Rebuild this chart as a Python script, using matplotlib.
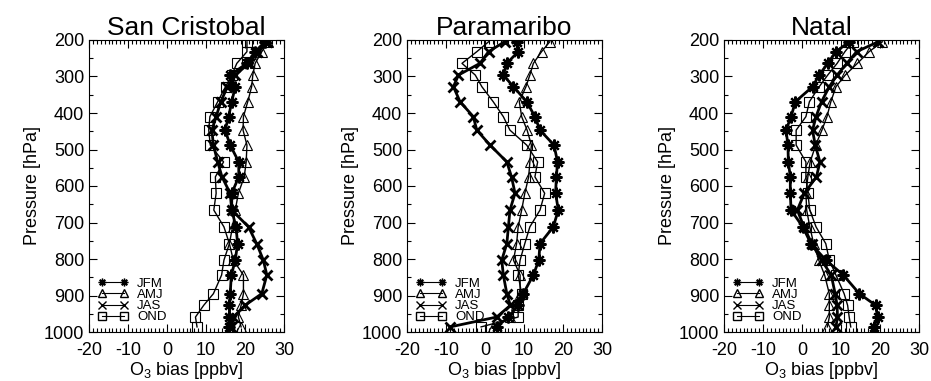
import matplotlib
matplotlib.use('Agg')
import matplotlib.pyplot as plt
from matplotlib.lines import Line2D
from matplotlib.ticker import MultipleLocator

plt.rcParams['font.family'] = ['Liberation Sans', 'DejaVu Sans']
plt.rcParams['axes.unicode_minus'] = False

# pressure levels of the markers [hPa]
levels = [205, 232, 264, 296, 328, 369, 410, 447, 488, 534, 575,
          620, 666, 712, 758, 803, 844, 895, 927, 959, 986]

# San Cristobal
sc_jfm = [25.1, 22.6, 20.5, 16.2, 17.5, 16.6, 15.8, 14.9, 16.2, 18.4, 18.4,
          16.6, 16.6, 17.7, 18.1, 17.5, 16.5, 16.2, 16.0, 16.0, 15.8]
sc_amj = [26.0, 24.3, 22.6, 22.0, 21.7, 20.7, 19.6, 19.5, 20.5, 20.3, 19.8,
          18.3, 17.5, 16.8, 16.0, 17.0, 19.6, 19.6, 19.0, 18.3, 19.0]
sc_jas = [25.6, 23.0, 21.0, 17.5, 15.5, 13.8, 12.6, 11.5, 11.9, 13.0, 14.1,
          16.2, 16.6, 20.9, 23.0, 24.7, 25.6, 24.3, 20.0, 17.0, 16.5]
sc_ond = [20.5, 20.5, 17.9, 16.6, 15.0, 13.0, 11.0, 10.7, 11.1, 14.5, 12.4,
          12.6, 12.0, 14.6, 16.0, 14.6, 14.0, 11.9, 9.4, 7.3, 7.7]

# Paramaribo
pa_jfm = [8.1, 8.5, 5.6, 4.7, 7.3, 10.7, 12.8, 14.1, 17.7, 18.6, 18.3,
          18.1, 18.8, 17.5, 14.1, 13.8, 12.4, 9.8, 8.5, 6.0, 3.0]
pa_amj = [16.6, 14.5, 12.4, 11.5, 10.5, 8.8, 9.4, 10.8, 11.9, 11.5, 11.2,
          10.2, 9.4, 8.5, 8.1, 7.3, 9.0, 9.0, 8.0, 6.5, 2.0]
pa_jas = [5.0, 0.9, -1.3, -6.8, -8.1, -6.4, -3.0, -2.1, 1.3, 5.6, 6.8,
          7.7, 6.4, 6.0, 5.6, 4.3, 4.7, 5.6, 6.5, 3.0, -8.9]
pa_ond = [0.9, -2.1, -5.9, -2.5, -0.8, 2.1, 4.7, 6.4, 10.7, 13.5, 12.8,
          15.3, 14.1, 11.5, 10.2, 9.0, 8.5, 9.4, 8.5, 8.5, -1.0]

# Natal
na_jfm = [12.1, 8.7, 6.6, 4.4, 2.7, -1.7, -2.8, -4.1, -3.6, -3.5, -3.0,
          -3.0, -2.8, 0.2, 2.3, 6.1, 10.6, 14.7, 18.9, 19.4, 18.5]
na_amj = [20.6, 17.2, 14.2, 11.1, 8.7, 7.4, 6.4, 5.1, 3.5, 2.1, 1.5,
          1.0, 1.2, 2.0, 3.0, 4.3, 5.8, 7.0, 7.0, 7.0, 6.5]
na_jas = [19.5, 14.0, 11.5, 9.0, 7.0, 5.0, 3.6, 2.7, 3.4, 4.6, 3.7,
          0.6, -1.2, 0.5, 2.5, 5.0, 7.5, 8.5, 9.0, 9.1, 8.7]
na_ond = [13.0, 11.0, 9.0, 6.6, 4.4, 1.9, 1.0, -1.5, -1.5, 1.0, 1.0,
          1.5, 2.0, 3.6, 6.1, 7.0, 8.7, 10.8, 11.7, 12.1, 12.5]

stations = ['San Cristobal', 'Paramaribo', 'Natal']
seasons = ['JFM', 'AMJ', 'JAS', 'OND']
data = [[sc_jfm, sc_amj, sc_jas, sc_ond],
        [pa_jfm, pa_amj, pa_jas, pa_ond],
        [na_jfm, na_amj, na_jas, na_ond]]

# style per season: marker, line width, marker edge width
styles = {
    'JFM': dict(marker=(8, 2, 0), lw=2.0, mew=1.6, ms=8.5),
    'AMJ': dict(marker='^', lw=1.0, mew=0.8, ms=7),
    'JAS': dict(marker='x', lw=2.0, mew=2.0, ms=7),
    'OND': dict(marker='s', lw=1.0, mew=0.8, ms=7),
}

fig = plt.figure(figsize=(9.31, 3.81), dpi=100)
lefts = [89 / 931, 407 / 931, 724 / 931]

for i, name in enumerate(stations):
    ax = fig.add_axes([lefts[i], 49 / 381, 195 / 931, 292 / 381])
    for s, vals in zip(seasons, data[i]):
        st = styles[s]
        ax.plot(vals, levels, color='black', linewidth=st['lw'],
                marker=st['marker'], markersize=st['ms'],
                markeredgewidth=st['mew'], markerfacecolor='none',
                markeredgecolor='black')
    ax.set_xlim(-20, 30)
    ax.set_ylim(1000, 200)
    ax.set_xticks(range(-20, 31, 10))
    ax.set_yticks(range(200, 1001, 100))
    ax.xaxis.set_minor_locator(MultipleLocator(1))
    ax.yaxis.set_minor_locator(MultipleLocator(50))
    ax.tick_params(which='both', direction='in', top=True, right=True,
                   labelsize=13, width=0.8)
    ax.tick_params(which='major', length=6)
    ax.tick_params(which='minor', length=3)
    ax.tick_params(axis='x', pad=7)
    for sp in ax.spines.values():
        sp.set_linewidth(0.8)
    ax.set_title(name, fontsize=19, pad=3)
    ax.set_ylabel('Pressure [hPa]', fontsize=13, labelpad=2)
    ax.set_xlabel(r'O$_{\mathregular{3}}$ bias [ppbv]', fontsize=13, labelpad=1)

    handles = [Line2D([], [], color='black', linewidth=0.8,
                      marker=styles[s]['marker'], markersize=5.5,
                      markeredgewidth=1.0, markerfacecolor='none')
               for s in seasons]
    ax.legend(handles, seasons, loc='lower left', fontsize=9.5, frameon=False,
              numpoints=2, handlelength=2.3, handletextpad=0.7,
              labelspacing=-0.08, borderaxespad=0.45, borderpad=0.2)

fig.savefig('out.png', dpi=100)
